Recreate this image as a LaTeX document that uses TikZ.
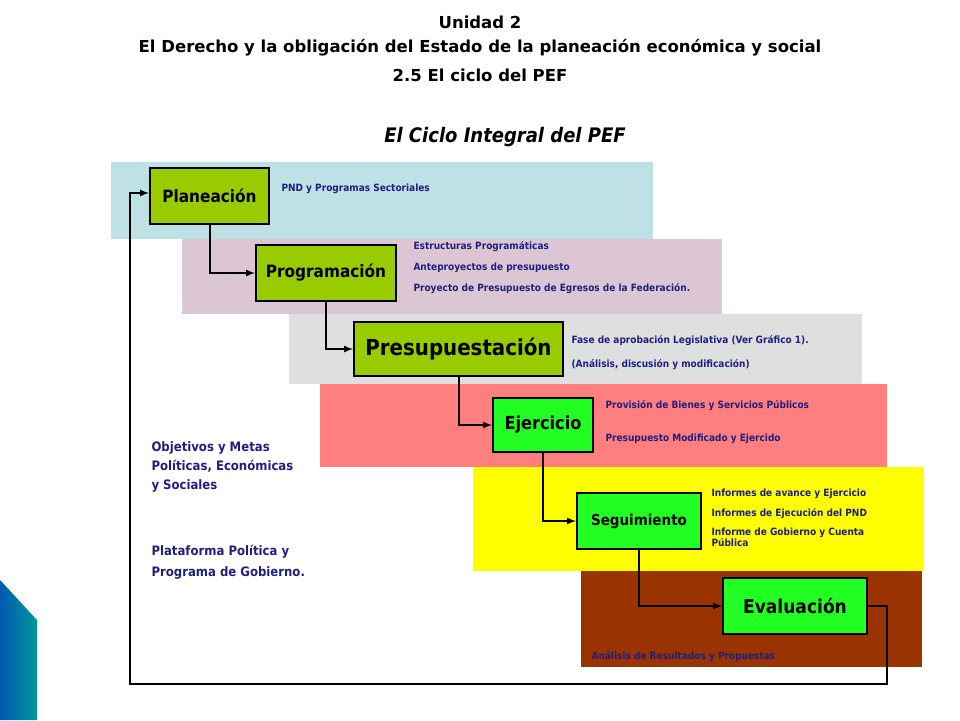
\documentclass[tikz,border=0pt]{standalone}
\usepackage{fontspec}
\setmainfont{DejaVu Sans}
\newfontfamily\boxfont{DejaVu Sans Condensed}
\usetikzlibrary{positioning}
\definecolor{txtblue}{HTML}{1F1F80}
\definecolor{limebox}{HTML}{99CC00}
\definecolor{greenbox}{HTML}{22FF22}
\definecolor{bandblue}{HTML}{BDE1E5}
\definecolor{bandpink}{HTML}{DCC6D4}
\definecolor{bandgrey}{HTML}{DFDFDF}
\definecolor{bandred}{HTML}{FF7F7F}
\definecolor{bandyellow}{HTML}{FFFF00}
\definecolor{bandbrown}{HTML}{993300}
\tikzset{
  stage/.style={draw=black, line width=2pt, fill=#1, inner sep=0pt, font=\boxfont\bfseries},
  band/.style={fill=#1, draw=none},
  note/.style={font=\boxfont\bfseries\fontsize{10}{14}\selectfont, text=txtblue, anchor=west, align=left},
  flow/.style={line width=2pt, -latex}
}
\begin{document}
\begin{tikzpicture}[x=1pt,y=-1pt]
  \useasboundingbox (0,0) rectangle (960,720);
  % corner decoration
  \shade[left color=cyan!50!blue!70!black, right color=cyan!60!black] (0,580) -- (37,620) -- (37,720) -- (0,720) -- cycle;
  % titles
  \node (t1) at (480,22) {\bfseries\fontsize{16.5}{18}\selectfont Unidad 2};
  \node (t2) at (480,48) {\bfseries\fontsize{16.5}{18}\selectfont El Derecho y la obligación del Estado de la planeación económica y social};
  \node (t3) at (480,75) {\bfseries\fontsize{16.5}{18}\selectfont 2.5 El ciclo del PEF};
  \node (head) at (505,137) {\boxfont\bfseries\itshape\fontsize{20}{22}\selectfont El Ciclo Integral del PEF};
  % bands
  \fill[band=bandblue] (111,162) rectangle (653,239);
  \fill[band=bandpink] (182,239) rectangle (722,314);
  \fill[band=bandgrey] (289,314) rectangle (862,384);
  \fill[band=bandred] (320,384) rectangle (887,467);
  \fill[band=bandyellow] (473,467) rectangle (924,571);
  \fill[band=bandbrown] (581,571) rectangle (922,667);
  % stages
  \node[stage=limebox, minimum width=119, minimum height=56, font=\boxfont\bfseries\fontsize{17}{19}\selectfont] (plan) at (209.5,196) {Planeación};
  \node[stage=limebox, minimum width=140, minimum height=56, font=\boxfont\bfseries\fontsize{17}{19}\selectfont] (prog) at (326,273) {Programación};
  \node[stage=limebox, minimum width=209, minimum height=54, font=\boxfont\bfseries\fontsize{22}{24}\selectfont] (pres) at (458.5,349) {Presupuestación};
  \node[stage=greenbox, minimum width=100, minimum height=54, font=\boxfont\bfseries\fontsize{18}{20}\selectfont] (ejer) at (543,425) {Ejercicio};
  \node[stage=greenbox, minimum width=124, minimum height=56, font=\boxfont\bfseries\fontsize{15}{17}\selectfont] (segu) at (639,521) {Seguimiento};
  \node[stage=greenbox, minimum width=144, minimum height=56, font=\boxfont\bfseries\fontsize{19}{21}\selectfont] (eval) at (795,606) {Evaluación};
  % notes
  \node[note] (n1) at (278,189) {PND y Programas Sectoriales};
  \node[note, font=\boxfont\bfseries\fontsize{10}{21}\selectfont] (n2) at (410,268) {Estructuras Programáticas\\Anteproyectos de presupuesto\\Proyecto de Presupuesto de Egresos de la Federación.};
  \node[note, font=\boxfont\bfseries\fontsize{10}{24}\selectfont] (n3) at (568,353) {Fase de aprobación Legislativa (Ver Gráfico 1).\\(Análisis, discusión y modificación)};
  \node[note, font=\boxfont\bfseries\fontsize{10}{33}\selectfont] (n4) at (602,422) {Provisión de Bienes y Servicios Públicos\\Presupuesto Modificado y Ejercido};
  \node[note, font=\boxfont\bfseries\fontsize{10}{10.5}\selectfont] (n5) at (708,518) {Informes de avance y Ejercicio\\[9pt]Informes de Ejecución del PND\\[9pt]Informe de Gobierno y Cuenta\\Pública};
  \node[note] (n6) at (588,657) {Análisis de Resultados y Propuestas};
  \node[note, font=\boxfont\bfseries\fontsize{13}{19}\selectfont] (obj) at (148,467) {Objetivos y Metas\\Políticas, Económicas\\y Sociales};
  \node[note, font=\boxfont\bfseries\fontsize{13}{21}\selectfont] (plat) at (148,562) {Plataforma Política y\\Programa de Gobierno.};
  % flow
  \draw[flow] (plan.south) |- (prog.west);
  \draw[flow] (prog.south) |- (pres.west);
  \draw[flow] (pres.south) |- (ejer.west);
  \draw[flow] (ejer.south) |- (segu.west);
  \draw[flow] (segu.south) |- (eval.west);
  \coordinate (r1) at (887,684);
  \coordinate (r2) at (130,193);
  \draw[flow] (eval.east) -| (r1) -| (r2) -- (r2 -| plan.west);
\end{tikzpicture}
\end{document}
